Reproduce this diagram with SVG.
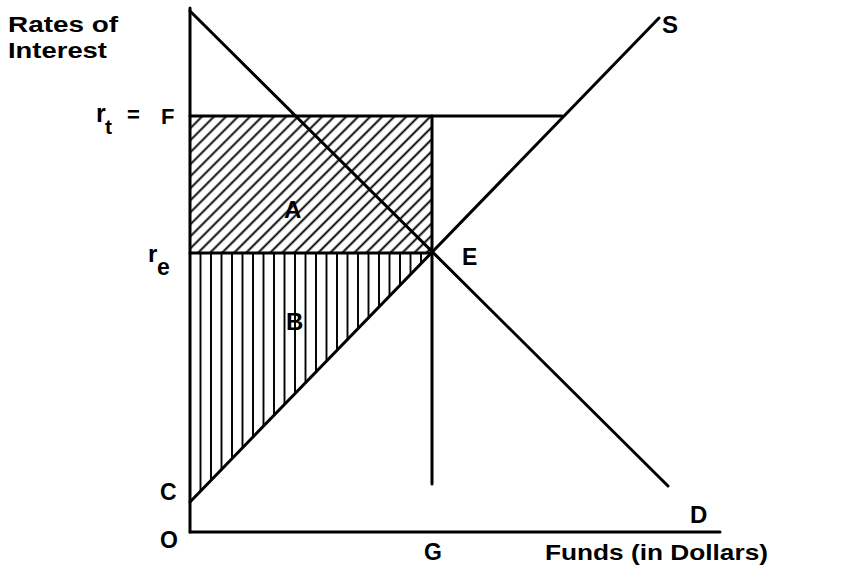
<svg xmlns="http://www.w3.org/2000/svg" width="849" height="570" viewBox="0 0 849 570">
<style>
.ln{stroke:#000;stroke-width:3;fill:none;stroke-linecap:round}
.t{font-family:"Liberation Sans",Arial,sans-serif;font-weight:bold;fill:#000}
</style>
<defs>
<pattern id="diag" patternUnits="userSpaceOnUse" width="8.5" height="10" patternTransform="rotate(45)">
<line x1="4.25" y1="-1" x2="4.25" y2="11" stroke="#000" stroke-width="1.9"/>
</pattern>
<pattern id="vert" patternUnits="userSpaceOnUse" x="190" y="0" width="10.5" height="10">
<line x1="10.5" y1="-1" x2="10.5" y2="11" stroke="#000" stroke-width="1.9"/>
<line x1="0" y1="-1" x2="0" y2="11" stroke="#000" stroke-width="1.9"/>
</pattern>
</defs>
<rect width="849" height="570" fill="#fff"/>
<g id="area-A"><rect x="190" y="116" width="242" height="137" fill="url(#diag)"/></g>
<g id="area-B"><polygon points="190,253 432,253 190,502" fill="url(#vert)"/></g>
<g id="connectors">
<line class="ln" x1="190" y1="8" x2="190" y2="532"/>
<line class="ln" x1="190" y1="532" x2="720" y2="532"/>
<line class="ln" x1="190" y1="116" x2="562" y2="116"/>
<line class="ln" x1="190" y1="253" x2="432" y2="253"/>
<line class="ln" x1="432" y1="116" x2="432" y2="484"/>
<line id="demand" class="ln" x1="190" y1="11" x2="668" y2="486"/>
<line id="supply" class="ln" x1="190" y1="502" x2="659" y2="18"/>
</g>
<g id="axis-y-label"><text class="t" x="8" y="32" font-size="22" textLength="110" lengthAdjust="spacingAndGlyphs">Rates of</text><text class="t" x="8" y="58" font-size="22" textLength="99" lengthAdjust="spacingAndGlyphs">Interest</text></g>
<g id="label-rt"><text class="t" x="96" y="122" font-size="25">r</text><text class="t" x="105" y="134" font-size="21">t</text><text class="t" x="127" y="122" font-size="22">=</text><text class="t" x="161" y="124" font-size="22">F</text></g>
<g id="label-re"><text class="t" x="148" y="262" font-size="24">r</text><text class="t" x="157" y="275" font-size="23">e</text></g>
<g id="label-E"><text class="t" x="462" y="265" font-size="23">E</text></g>
<g id="label-A"><text class="t" x="284" y="218" font-size="24">A</text></g>
<g id="label-B"><text class="t" x="286" y="330" font-size="24">B</text></g>
<g id="label-C"><text class="t" x="160" y="500" font-size="23">C</text></g>
<g id="label-O"><text class="t" x="160" y="548" font-size="23">O</text></g>
<g id="label-G"><text class="t" x="424" y="560" font-size="23">G</text></g>
<g id="label-S"><text class="t" x="662" y="33" font-size="24">S</text></g>
<g id="label-D"><text class="t" x="690" y="523" font-size="24">D</text></g>
<g id="axis-x-label"><text class="t" x="545" y="560" font-size="22" textLength="223" lengthAdjust="spacingAndGlyphs">Funds (in Dollars)</text></g>
</svg>
